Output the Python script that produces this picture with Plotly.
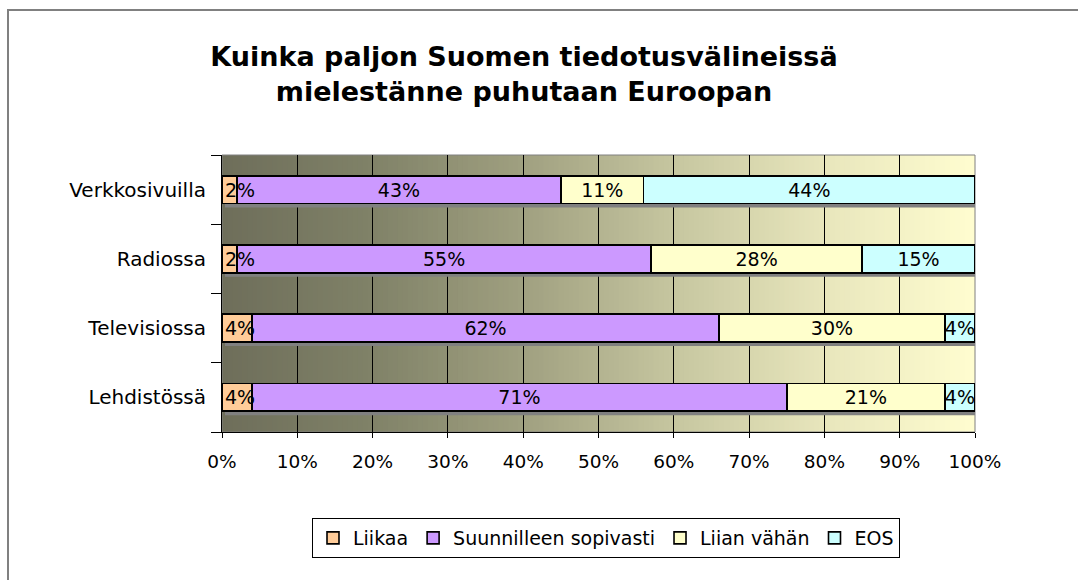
import plotly.graph_objects as go

# data (bottom to top, as drawn)
kanavat = ["Lehdistössä", "Televisiossa", "Radiossa", "Verkkosivuilla"]
liikaa = [4, 4, 2, 2]
sopivasti = [71, 62, 55, 43]
liian_vahan = [21, 30, 28, 11]
eos = [4, 4, 15, 44]

sarjat = [
    ("Liikaa", liikaa, "#ffcc99"),
    ("Suunnilleen sopivasti", sopivasti, "#cc99ff"),
    ("Liian vähän", liian_vahan, "#ffffcc"),
    ("EOS", eos, "#ccffff"),
]

FONT = "DejaVu Sans"
L, R, T, B = 222, 103, 155, 148
W, H = 1078, 580
pw, ph = W - L - R, H - T - B

fig = go.Figure()
for nimi, arvot, vari in sarjat:
    fig.add_trace(go.Bar(
        y=kanavat, x=arvot, name=nimi, orientation="h",
        marker=dict(color=vari, line=dict(color="black", width=1.6)),
        text=None if nimi == "Liikaa" else [f"{v}%" for v in arvot],
        textposition="inside", insidetextanchor="middle",
        textangle=0, constraintext="none",
        insidetextfont=dict(family=FONT, size=19, color="black"),
        cliponaxis=False, hoverinfo="skip",
    ))

# the narrow "Liikaa" labels spill over their bars, so draw them again on an
# overlaying axis (drawn on top) with a transparent bar
fig.add_trace(go.Bar(
    y=kanavat, x=liikaa, orientation="h", yaxis="y2",
    marker=dict(color="rgba(0,0,0,0)", line=dict(width=0)),
    text=[f"{v}%" for v in liikaa], textposition="inside",
    insidetextanchor="start", textangle=0, constraintext="none",
    insidetextfont=dict(family=FONT, size=19, color="black"),
    showlegend=False, cliponaxis=False, hoverinfo="skip",
))


def lerp_color(t):
    stops = [(0.0, (110, 110, 90)), (0.2, (128, 130, 104)), (0.4, (160, 160, 128)),
             (0.6, (198, 198, 160)), (0.8, (232, 230, 188)), (1.0, (255, 253, 208))]
    for (t0, c0), (t1, c1) in zip(stops, stops[1:]):
        if t <= t1:
            f = (t - t0) / (t1 - t0)
            return "rgb(%d,%d,%d)" % tuple(round(a + (b - a) * f) for a, b in zip(c0, c1))
    return "rgb(255,253,208)"


shapes = []
# gradient background of the plot area
n = 150
for k in range(n):
    shapes.append(dict(type="rect", xref="x", yref="paper", layer="below",
                       x0=100 * k / n, x1=100 * (k + 1.2) / n, y0=0, y1=1,
                       fillcolor=lerp_color((k + 0.5) / n), line=dict(width=0)))

# drop shadows under the bars
dx = 3 / pw * 100
dy = 4 / (ph / len(kanavat))
for i in range(len(kanavat)):
    total = liikaa[i] + sopivasti[i] + liian_vahan[i] + eos[i]
    shapes.append(dict(type="rect", xref="x", yref="y", layer="between",
                       x0=dx, x1=total + dx, y0=i - 0.2 - dy, y1=i + 0.2 - dy,
                       fillcolor="#808080", line=dict(width=0)))

# plot area border (gray top/right)
shapes.append(dict(type="rect", xref="paper", yref="paper", layer="between",
                   x0=0, x1=1, y0=0, y1=1, line=dict(color="#808080", width=1)))
# chart area frame
shapes.append(dict(type="rect", xref="paper", yref="paper", layer="above",
                   x0=(8 - L) / pw, x1=(W + 40 - L) / pw,
                   y0=-(B + 40) / ph, y1=(H - 10 - B) / ph,
                   line=dict(color="#808080", width=2)))

fig.update_layout(
    width=W, height=H,
    margin=dict(l=L, r=R, t=T, b=B),
    barmode="stack", bargap=0.6,
    paper_bgcolor="white", plot_bgcolor="white",
    font=dict(family=FONT, size=18, color="black"),
    title=dict(text="<b>Kuinka paljon Suomen tiedotusvälineissä<br>mielestänne puhutaan Euroopan</b>",
               x=524 / W, xanchor="center", y=1 - 66 / H, yanchor="middle",
               font=dict(family=FONT, size=27, color="black")),
    xaxis=dict(range=[0, 100], dtick=10, ticksuffix="%", showgrid=True,
               gridcolor="black", gridwidth=1, showline=True, linecolor="black",
               linewidth=1, ticks="outside", ticklen=5, tickcolor="black",
               tickfont=dict(size=18.5), ticklabelstandoff=8,
               zeroline=False, fixedrange=True),
    yaxis=dict(showgrid=False, showline=True, linecolor="black", linewidth=1,
               ticks="outside", ticklen=10, tickcolor="black", tickson="boundaries",
               tickfont=dict(size=20), ticklabelstandoff=11,
               categoryorder="array", categoryarray=kanavat,
               range=[-0.5, 3.5], fixedrange=True),
    yaxis2=dict(overlaying="y", matches="y", visible=False,
                categoryorder="array", categoryarray=kanavat,
                range=[-0.5, 3.5], fixedrange=True),
    legend=dict(orientation="h", x=(606 - L) / pw, xanchor="center",
                y=-(538 - (H - B)) / ph, yanchor="middle", itemwidth=30,
                bordercolor="black", borderwidth=1, bgcolor="white",
                font=dict(family=FONT, size=19), traceorder="normal"),
    shapes=shapes,
)

fig.write_html("out.html", config={"displayModeBar": False},
               post_script="document.body.style.margin='0';")
